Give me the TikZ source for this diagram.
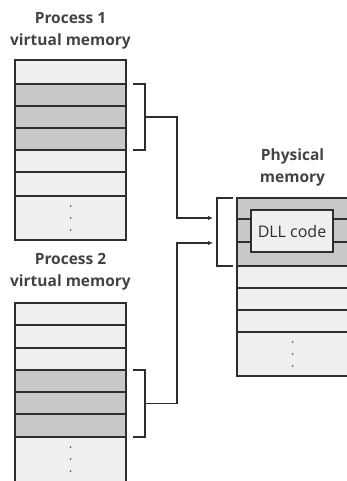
\documentclass[tikz,border=0pt]{standalone}
\usepackage{fontspec}
\setmainfont{Open Sans}
\usetikzlibrary{positioning,arrows.meta,calc}
\definecolor{cellgrey}{HTML}{EFEFEF}
\definecolor{dllgrey}{HTML}{C8C8C8}
\definecolor{inkgrey}{HTML}{2E2E2E}
\tikzset{
  cell/.style={rectangle, draw=inkgrey, fill=#1, line width=1.3pt, anchor=north west,
               minimum width=111pt, inner sep=0pt, outer sep=0pt},
  title/.style={font=\fontsize{15.5}{22}\selectfont\bfseries, color=inkgrey!90,
                align=center, inner sep=0pt},
  brk/.style={draw=inkgrey, line width=1.3pt},
  ar/.style={-{Latex[length=5pt,width=4.5pt]}, line width=1.3pt, draw=inkgrey},
}

\begin{document}
\begin{tikzpicture}[x=1pt, y=-1pt]
  \useasboundingbox (0,0) rectangle (346,481);

  % process 1 virtual memory
  \foreach \n/\y/\h/\c in {p1a/60/24/cellgrey, p1b/84/22/dllgrey, p1c/106/22/dllgrey,
      p1d/128/22/dllgrey, p1e/150/22/cellgrey, p1f/172/24/cellgrey, p1g/196/44/cellgrey}
    \node[cell=\c, minimum height=\h pt] (\n) at (15,\y) {};
  \node[title, above=11pt of p1a] (t1) {Process 1\\virtual memory};

  % process 2 virtual memory
  \foreach \n/\y/\h/\c in {p2a/303/22/cellgrey, p2b/325/23/cellgrey, p2c/348/22/cellgrey,
      p2d/370/22/dllgrey, p2e/392/22/dllgrey, p2f/414/23/dllgrey, p2g/437/60/cellgrey}
    \node[cell=\c, minimum height=\h pt] (\n) at (15,\y) {};
  \node[title, above=13pt of p2a] (t2) {Process 2\\virtual memory};

  % physical memory
  \foreach \n/\y/\h/\c in {ph1/198/21/dllgrey, ph2/219/23/dllgrey, ph3/242/24/dllgrey,
      ph4/266/22/cellgrey, ph5/288/22/cellgrey, ph6/310/22/cellgrey, ph7/332/44/cellgrey}
    \node[cell=\c, minimum height=\h pt] (\n) at (237,\y) {};
  \node[title, above=12pt of ph1] (t3) {Physical\\memory};
  \node[cell=cellgrey, anchor=center, minimum width=82pt, minimum height=42pt,
        font=\fontsize{16}{18}\selectfont, text=inkgrey] (dll) at (292,231) {DLL code};

  % dots
  \foreach \d in {10,22,34} {
    \fill[inkgrey!75] ($(p1g.north)+(0,\d)$) circle (1pt);
    \fill[inkgrey!75] ($(p2g.north)+(0,\d)$) circle (1pt);
    \fill[inkgrey!75] ($(ph7.north)+(0,\d)$) circle (1pt);
  }

  % brackets
  \draw[brk] ($(p1b.north east)+(7,0)$) -- ++(12,0) |- ($(p1d.south east)+(7,0)$);
  \draw[brk] ($(p2d.north east)+(7,0)$) -- ++(12,0) |- ($(p2f.south east)+(7,0)$);
  \draw[brk] ($(ph1.north west)+(-4,0)$) -- ++(-16,0) |- ($(ph3.south west)+(-4,0)$);
  \coordinate (b1) at ($(p1b.north east)!0.5!(p1d.south east)+(19,0)$);
  \coordinate (b2) at ($(p2d.north east)!0.5!(p2f.south east)+(19,0)$);
  \coordinate (in1) at ($(ph1.north west)+(-24,20)$);
  \coordinate (in2) at ($(ph1.north west)+(-24,45)$);

  \draw[ar] (b1) -- ++(32,0) |- (in1);
  \draw[ar] (b2) -- ++(32,0) |- (in2);
\end{tikzpicture}
\end{document}
